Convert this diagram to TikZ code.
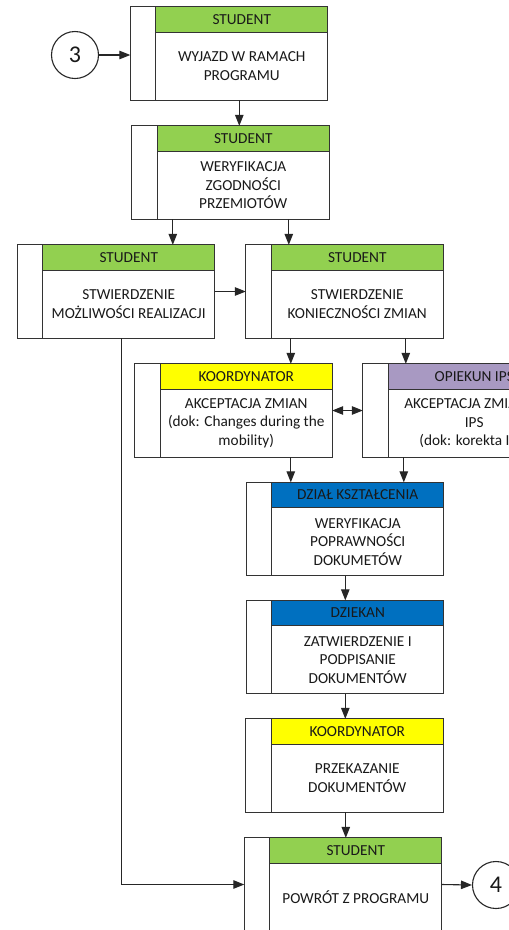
\documentclass[tikz,border=0pt]{standalone}
\usepackage{fontspec}
\setmainfont{Carlito}
\usetikzlibrary{arrows.meta,calc}
\definecolor{hgreen}{HTML}{92D050}
\definecolor{hyellow}{HTML}{FFFF00}
\definecolor{hpurple}{HTML}{A899C2}
\definecolor{hblue}{HTML}{0070C0}
\newcommand\pbox[6]{%
  \node[box] (#1) at (#2,#3) {};
  \fill[#4] ([xshift=25.5pt]#1.north west) rectangle ([yshift=-25.5pt]#1.north east);
  \draw[edge] ([xshift=25.5pt]#1.north west) -- ([xshift=25.5pt]#1.south west)
       ([xshift=25.5pt,yshift=-25.5pt]#1.north west) -- ([yshift=-25.5pt]#1.north east);
  \draw[edge] (#1.north west) rectangle (#1.south east);
  \node (#1h) at ($([xshift=25.5pt]#1.north west)!0.5!([yshift=-25.5pt]#1.north east)$) {#5};
  \node[align=center] (#1t) at ($([xshift=25.5pt,yshift=-25.5pt]#1.north west)!0.5!(#1.south east)$) {#6};
}
\begin{document}
\begin{tikzpicture}[x=1pt,y=-1pt,
  font=\fontsize{15.3}{18.5}\selectfont,
  text=black!90,
  box/.style={minimum width=197pt, minimum height=93pt, inner sep=0pt, fill=white},
  edge/.style={draw=black!80, line width=1.1pt},
  arr/.style={-{Triangle[length=11pt,width=8.5pt]}, line width=1.1pt, draw=black!85},
  darr/.style={{Triangle[length=11pt,width=8.5pt]}-{Triangle[length=11pt,width=8.5pt]}, line width=1.1pt, draw=black!85},
  conn/.style={draw=black!85, circle, line width=1.1pt, minimum size=47pt, inner sep=0pt, font=\fontsize{24}{28}\selectfont},
]
\useasboundingbox (0,0) rectangle (509,930);
\clip (0,0) rectangle (509,930);

\pbox{b1}{229}{53.5}{hgreen}{STUDENT}{WYJAZD W RAMACH\\PROGRAMU}
\pbox{b2}{230.5}{172.5}{hgreen}{STUDENT}{WERYFIKACJA\\ZGODNOŚCI\\PRZEMIOTÓW}
\pbox{b3}{116}{291.5}{hgreen}{STUDENT}{STWIERDZENIE\\MOŻLIWOŚCI REALIZACJI}
\pbox{b4}{344.5}{291.5}{hgreen}{STUDENT}{STWIERDZENIE\\KONIECZNOŚCI ZMIAN}
\pbox{b5}{233.5}{410.5}{hyellow}{KOORDYNATOR}{AKCEPTACJA ZMIAN\\(dok: Changes during the\\mobility)}
\pbox{b6}{461.5}{410.5}{hpurple}{OPIEKUN IPS}{AKCEPTACJA ZMIAN W\\IPS\\(dok: korekta IPS)}
\pbox{b7}{345}{529}{hblue}{DZIAŁ KSZTAŁCENIA}{WERYFIKACJA\\POPRAWNOŚCI\\DOKUMETÓW}
\pbox{b8}{345}{647}{hblue}{DZIEKAN}{ZATWIERDZENIE I\\PODPISANIE\\DOKUMENTÓW}
\pbox{b9}{344.5}{765.5}{hyellow}{KOORDYNATOR}{PRZEKAZANIE\\DOKUMENTÓW}
\pbox{b10}{343}{884.5}{hgreen}{STUDENT}{POWRÓT Z PROGRAMU}

\node[conn] (c3) at (75,55) {3};
\node[conn] (c4) at (496,885) {4};

\coordinate (p1) at ([xshift=109pt]b1.south west);
\coordinate (p2a) at ([xshift=41pt]b2.south west);
\coordinate (p2b) at ([xshift=157pt]b2.south west);
\coordinate (p3) at ([xshift=104pt]b3.south west);
\coordinate (p4a) at ([xshift=45pt]b4.south west);
\coordinate (p4b) at ([xshift=160pt]b4.south west);
\coordinate (p5) at ([xshift=156pt]b5.south west);
\coordinate (p6) at ([xshift=41pt]b6.south west);
\coordinate (p7) at ([xshift=99pt]b7.south west);
\coordinate (p8) at ([xshift=99pt]b8.south west);
\coordinate (p9) at ([xshift=100pt]b9.south west);

\draw[arr] (c3.east) -- (c3.east -| b1.west);
\draw[arr] (p1) -- (p1 |- b2.north);
\draw[arr] (p2a) -- (p2a |- b3.north);
\draw[arr] (p2b) -- (p2b |- b4.north);
\draw[arr] (b3.east) -- (b4.west);
\draw[arr] (p4a) -- (p4a |- b5.north);
\draw[arr] (p4b) -- (p4b |- b6.north);
\draw[darr] (b5.east) -- (b6.west);
\draw[arr] (p5) -- (p5 |- b7.north);
\draw[arr] (p6) -- (p6 |- b7.north);
\draw[arr] (p7) -- (p7 |- b8.north);
\draw[arr] (p8) -- (p8 |- b9.north);
\draw[arr] (p9) -- (p9 |- b10.north);
\draw[arr] (p3) |- (b10.west);
\draw[arr] (b10.east) -- (c4.west);
\end{tikzpicture}
\end{document}
